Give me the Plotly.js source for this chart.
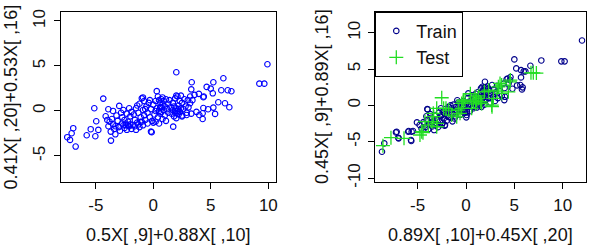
<!DOCTYPE html>
<html>
<head>
<meta charset="utf-8">
<script src="https://cdn.plot.ly/plotly-3.0.1.min.js"></script>
<style>html,body{margin:0;padding:0;background:#fff;}#chart{width:594px;height:246px;}</style>
</head>
<body>
<div id="chart"></div>
<script>
// Left panel points [x, y]
const leftPoints = [
 [9.92,5.19],[9.22,3.03],[9.65,3.03],[2.0,4.3],[3.34,3.19],[6.09,3.63],[5.22,3.19],[4.64,2.67],[4.99,2.48],[5.17,1.96],
 [5.91,2.3],[6.47,2.3],[6.79,2.19],[5.65,0.96],[6.23,0.85],[6.61,0.41],[5.22,0.37],[5.37,-0.33],[4.35,0.33],[4.76,0.19],
 [4.29,-0.26],[4.29,-0.89],[4.35,1.52],[-4.35,1.37],[-5.13,0.3],[-4.96,-1.15],[-4.78,-2.11],[-5.44,-2.03],[-5.79,-2.7],[-5.04,-2.81],
 [-6.96,-1.92],[-7.1,-2.48],[-7.48,-2.92],[-7.24,-3.22],[-6.75,-3.96],[-3.68,-3.3],[-4.14,-0.59],[-3.91,0.19],[-2.96,0.56],
 [3.58,1.79],[3.96,1.9],[4.39,1.6],[3.3,2.4],[3.2,1.6],[3.0,1.2],[3.4,1.2],[3.2,0.85],[3.06,0.4],[3.3,-0.3],
 [2.9,-0.45],[2.5,-0.6],[1.73,-1.75],[4.0,-0.45],[3.75,-0.1],[-0.14,-2.37],
 [-3.9,-1.7],[-3.8,-1.2],[-3.6,-0.9],[-3.5,-1.5],[-3.4,-2.0],[-3.3,-2.6],[-3.2,-0.5],[-3.1,-1.1],[-3.0,-1.8],[-2.9,-2.2],
 [-2.8,-0.2],[-2.7,-0.7],[-2.7,-1.4],[-2.6,0.1],[-2.5,-1.9],[-2.5,-1.0],[-2.4,-1.6],[-2.3,-0.3],[-2.3,-2.1],[-2.2,-1.2],
 [-2.1,-1.7],[-2.1,0.3],[-2.0,-0.6],[-2.0,-1.5],[-1.9,-2.0],[-3.7,-2.3],[-3.3,-1.7],[-2.6,-1.6],[-2.4,-1.4],[-2.2,-1.6],
 [-4.0,-1.0],[-3.5,0.0],
 [-1.8,-1.6],[-1.7,-0.4],[-1.6,-1.0],[-1.5,-2.1],[-1.5,0.3],[-1.4,-1.3],[-1.3,-0.2],[-1.2,-1.8],[-1.2,0.8],[-1.1,-0.7],
 [-1.0,-1.2],[-1.0,1.4],[-0.9,0.1],[-0.9,-1.6],[-0.8,-0.5],[-0.8,1.1],[-0.7,-1.0],[-0.6,0.5],[-0.5,-0.2],[-0.5,-1.4],
 [-0.4,0.9],[-0.3,-0.7],[-0.2,-2.3],[-0.2,0.2],[-0.1,-1.1],[0.0,0.7],[-1.6,-1.7],[-1.3,-1.5],[-1.1,-1.2],[-0.9,1.5],
 [-1.4,0.6],[-0.7,0.2],[-0.3,1.2],[-1.9,-0.1],
 [0.1,-0.4],[0.2,1.1],[0.2,-1.2],[0.3,2.2],[0.3,0.3],[0.4,-0.7],[0.4,1.6],[0.5,0.0],[0.5,-1.4],[0.6,0.9],
 [0.6,-0.3],[0.7,1.3],[0.7,0.4],[0.8,-0.9],[0.8,0.7],[0.9,0.1],[0.9,1.1],[1.0,-0.5],[1.0,0.5],[1.1,1.3],
 [1.1,-1.1],[1.2,0.2],[1.3,0.8],[1.3,-0.2],[1.4,1.2],[1.5,0.4],[0.6,0.4],[0.7,-0.1],[0.8,1.5],[0.5,1.2],
 [0.0,-1.3],[0.2,0.0],
 [1.6,-0.3],[1.7,0.9],[1.7,0.1],[1.8,-0.6],[1.8,0.5],[1.9,1.4],[1.9,-0.2],[2.0,0.3],[2.0,-0.8],[2.1,0.0],
 [2.1,1.6],[2.2,-0.4],[2.2,0.6],[2.3,1.1],[2.3,-0.1],[2.4,0.3],[2.5,-0.5],[2.5,0.9],[2.6,0.2],[2.7,1.3],
 [2.8,0.5],[2.9,-0.2],[2.0,1.7],[2.4,1.7],[1.9,0.0],[2.1,-0.3],[2.2,0.2]
];

// Right panel: training points [x, y]
const trainPoints = [
 [12.0,8.94],[9.86,6.06],[10.2,6.06],[7.79,6.19],[5.0,6.33],[6.66,5.46],[5.2,5.09],[5.69,4.86],[5.97,4.68],[6.14,4.68],
 [5.69,3.85],[5.62,2.8],[5.86,2.48],[5.79,2.2],[5.28,2.75],[-8.69,-6.38],[-8.45,-5.23],[-7.24,-3.72],[-6.97,-4.54],[-5.93,-3.53],
 [-5.48,-3.53],[-5.66,-4.91],[-3.97,-0.55],[0.03,-1.65],[-7.17,-3.63],[-5.97,-3.63],[-5.62,-3.63],[-7.0,-4.45],[-5.69,-4.77],[-5.07,-2.34],
 [-2.17,-2.71],
 [-4.8,-2.7],[-4.6,-3.2],[-4.4,-2.3],[-4.2,-3.0],[-4.0,-2.0],[-3.9,-3.3],[-3.8,-2.6],[-3.6,-1.7],[-3.5,-2.9],[-3.4,-2.2],
 [-3.3,-3.4],[-3.2,-1.4],[-3.1,-2.5],[-3.0,-1.9],[-2.9,-3.0],[-2.8,-1.0],[-2.7,-2.2],[-2.6,-1.5],[-2.5,-2.7],[-2.4,-0.9],
 [-2.3,-1.8],[-2.2,-1.2],[-2.1,-0.5],[-2.0,-2.1],[-1.9,-1.4],[-1.8,-0.2],[-1.7,-0.9],[-1.6,-1.7],[-1.5,-0.4],[-1.4,-1.2],
 [-1.3,0.1],[-1.2,-0.7],[-1.1,-1.5],[-1.0,-0.2],[-0.9,-0.9],[-0.8,0.4],[-0.7,-0.5],[-0.6,-1.3],[-0.5,0.0],[-0.4,-0.7],
 [-0.3,0.6],[-0.2,-0.3],[-0.1,-1.0],[0.0,0.3],[0.1,-0.5],[0.2,1.0],[0.3,0.0],[0.4,-0.8],[0.5,0.6],[0.6,1.4],
 [0.7,-0.2],[0.8,0.9],[0.9,0.3],[1.0,1.6],[1.1,-0.3],[1.2,0.7],[1.3,1.2],[1.4,0.1],[1.5,0.9],[1.6,1.8],
 [1.7,0.4],[1.8,1.3],[1.9,2.4],[2.0,0.7],[2.1,1.7],[2.2,2.6],[2.3,1.0],[2.4,2.0],[2.5,0.4],[2.6,1.5],
 [2.7,2.8],[2.8,1.2],[2.9,2.2],[3.0,0.6],[3.1,1.8],[3.2,2.7],[3.3,1.0],[3.5,2.0],[3.7,1.3],[3.9,3.0],
 [4.0,2.4],[4.2,3.6],[4.4,3.0],[4.6,3.9],[4.8,2.3],[1.96,3.25],[1.69,2.56],[1.55,2.34],[0.24,1.65],[0.07,-1.33],
 [4.03,1.18],[3.96,0.73],[4.31,3.71],[4.55,3.48],[-4.0,-0.51],[-2.5,-1.3],[-2.0,-1.0],[-1.5,-1.0],[-1.0,-0.6],[-0.5,-0.8],
 [0.5,0.2],[1.0,0.6],[1.5,0.3],[2.0,1.2],[1.8,2.0],[2.0,2.5],[1.9,1.6],[1.7,1.0],[0.3,0.5],[-0.3,-0.1],
 [-0.7,0.2],[-1.8,-1.6],[-2.4,-2.4],[-3.0,-2.6],[-3.5,-2.3],[-4.3,-2.5],[-2.2,-2.8],[-1.2,-1.8],[-0.9,0.7],[0.8,-0.4],
 [1.2,1.8],[2.5,1.0],[3.0,1.6],[2.3,2.3],[1.9,0.1],[-1.6,0.0],[-2.6,-0.4],[-3.7,-1.2],[-4.1,-1.5],[-1.4,-2.2],
 [0.1,-0.9],[0.9,1.3],[1.3,0.0],[1.6,-0.2]
];

// Right panel: test points [x, y]
const testPoints = [
 [-8.59,-5.55],[-7.76,-4.45],[-6.41,-4.54],[-4.76,-4.08],[-4.58,-3.63],[-4.24,-2.25],[-3.9,-2.71],[-3.03,-2.94],[-3.38,-1.1],[-3.03,-0.41],
 [-2.51,1.05],[-2.07,-0.41],[-1.48,-1.33],[-0.96,-1.57],[-0.45,-0.41],[-0.28,0.73],[-0.62,-1.1],[-0.8,-0.65],[-0.28,0.5],[-0.45,0.27],
 [-0.1,0.73],[0.93,1.18],[1.1,0.73],[0.76,0.5],[1.28,0.96],[1.62,0.27],[0.59,-0.41],[1.0,0.2],[1.3,1.3],[1.5,0.5],
 [2.34,2.11],[1.9,1.88],[2.66,0.04],[2.83,0.96],[2.69,-0.18],[3.35,2.56],[3.52,3.03],[3.69,2.79],[3.69,1.65],[4.38,1.87],
 [4.55,3.25],[4.59,3.49],[6.72,4.49],[6.96,4.49],[7.28,4.45],[-4.45,-3.76],[-3.0,-2.48],[-3.52,-2.25],[-1.79,-0.64],[-2.31,-0.41],
 [-3.34,-1.56],[0.45,1.6],[3.21,1.97]
];

const leftTicks = [-5, 0, 5, 10];
const leftTickText = ['-5', '0', '5', '10'];
const rightXTicks = [-5, 0, 5, 10];
const rightXTickText = ['-5', '0', '5', '10'];
const rightYTicks = [-10, -5, 0, 5, 10];
const rightYTickText = ['-10', '-5', '0', '5', '10'];

const leftXTitle = '0.5X[ ,9]+0.88X[ ,10]';
const leftYTitle = '0.41X[ ,20]+0.53X[ ,16]';
const rightXTitle = '0.89X[ ,10]+0.45X[ ,20]';
const rightYTitle = '0.45X[ ,9]+0.89X[ ,16]';
const seriesNames = ['Train', 'Test'];

const W = 594, H = 246;
const FONT = 'Liberation Sans, Arial, sans-serif';

const traces = [
 {x: leftPoints.map(p => p[0]), y: leftPoints.map(p => p[1]), type: 'scatter', mode: 'markers',
  xaxis: 'x', yaxis: 'y', showlegend: false,
  marker: {symbol: 'circle-open', size: 5.5, color: '#0000FF', line: {width: 1.1, color: '#0000FF'}}},
 {x: trainPoints.map(p => p[0]), y: trainPoints.map(p => p[1]), type: 'scatter', mode: 'markers',
  xaxis: 'x2', yaxis: 'y2', name: seriesNames[0],
  marker: {symbol: 'circle-open', size: 5.5, color: '#00008B', line: {width: 1.1, color: '#00008B'}}},
 {x: testPoints.map(p => p[0]), y: testPoints.map(p => p[1]), type: 'scatter', mode: 'markers',
  xaxis: 'x2', yaxis: 'y2', name: seriesNames[1],
  marker: {symbol: 'cross-thin-open', size: 10, color: '#22DD22', line: {width: 1.3, color: '#22DD22'}}}
];

function ax(extra) {
  return Object.assign({
    showgrid: false, zeroline: false, showline: true, mirror: true,
    linecolor: '#000', linewidth: 1, ticks: 'outside', ticklen: 6, tickcolor: '#000', tickwidth: 1,
    tickmode: 'array', tickfont: {family: FONT, size: 17, color: '#111'}, fixedrange: true
  }, extra);
}

const layout = {
  width: W, height: H,
  margin: {l: 0, r: 0, t: 0, b: 0},
  paper_bgcolor: '#fff', plot_bgcolor: '#fff',
  font: {family: FONT, size: 17, color: '#111'},
  showlegend: true,
  legend: {x: 375.3 / W, y: 1 - 11.7 / H, xanchor: 'left', yanchor: 'top',
    bgcolor: '#fff', bordercolor: '#000', borderwidth: 1,
    font: {family: FONT, size: 18, color: '#111'}, itemwidth: 30, tracegroupgap: 0},
  xaxis: ax({domain: [60.7 / W, 275.7 / W], range: [-8.05, 10.64], anchor: 'y',
    tickvals: leftTicks, ticktext: leftTickText, ticklabelstandoff: 2}),
  yaxis: ax({domain: [1 - 182 / H, 1 - 11.7 / H], range: [-7.9, 11.03], anchor: 'x',
    tickvals: leftTicks, ticktext: leftTickText, tickangle: -90, ticklabelstandoff: 2}),
  xaxis2: ax({domain: [375.3 / W, 585.7 / W], range: [-9.38, 12.38], anchor: 'y2',
    tickvals: rightXTicks, ticktext: rightXTickText, ticklabelstandoff: 2}),
  yaxis2: ax({domain: [1 - 182 / H, 1 - 11.7 / H], range: [-10.55, 12.9], anchor: 'x2',
    tickvals: rightYTicks, ticktext: rightYTickText, tickangle: -90, ticklabelstandoff: 2}),
  annotations: [
    {text: leftXTitle, xref: 'paper', yref: 'paper', x: 168 / W, y: 1 - 235 / H, xanchor: 'center', yanchor: 'middle',
     showarrow: false, font: {family: FONT, size: 18, color: '#111'}},
    {text: rightXTitle, xref: 'paper', yref: 'paper', x: 480.5 / W, y: 1 - 235 / H, xanchor: 'center', yanchor: 'middle',
     showarrow: false, font: {family: FONT, size: 18, color: '#111'}},
    {text: leftYTitle, xref: 'paper', yref: 'paper', x: 10.5 / W, y: 1 - 97 / H, xanchor: 'center', yanchor: 'middle',
     textangle: -90, showarrow: false, font: {family: FONT, size: 18, color: '#111'}},
    {text: rightYTitle, xref: 'paper', yref: 'paper', x: 322 / W, y: 1 - 97 / H, xanchor: 'center', yanchor: 'middle',
     textangle: -90, showarrow: false, font: {family: FONT, size: 18, color: '#111'}}
  ]
};

Plotly.newPlot('chart', traces, layout, {displayModeBar: false, staticPlot: true});
</script>
</body>
</html>
